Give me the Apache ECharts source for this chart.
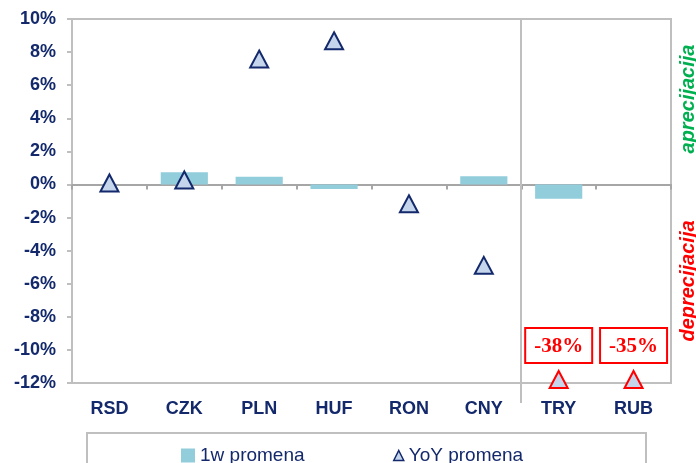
<!DOCTYPE html>
<html>
<head>
<meta charset="utf-8">
<script src="https://cdn.jsdelivr.net/npm/echarts@6/dist/echarts.min.js"></script>
<style>
  html, body { margin: 0; padding: 0; background: #fff; }
  #chart { width: 696px; height: 463px; }
</style>
</head>
<body>
<div id="chart"></div>
<script>
// Currency changes against the euro: one-week change (bars) and year-on-year change (triangles)
const categories = ['RSD', 'CZK', 'PLN', 'HUF', 'RON', 'CNY', 'TRY', 'RUB'];
const weeklyChange = [0, 0.74, 0.47, -0.27, 0, 0.5, -0.86, 0];
const yoyChange = [0.06, 0.24, 7.55, 8.65, -1.2, -4.92, -38, -35];
const yMin = -12;
const yMax = 10;
const yStep = 2;
const seriesNames = ['1w promena', 'YoY promena'];
const separatorBefore = 'TRY';

const NAVY = '#13296b';
const GRAY = '#bfbfbf';
const SANS = '"Liberation Sans", Arial, sans-serif';
const SERIF = '"Liberation Serif", "Times New Roman", serif';

const chart = echarts.init(document.getElementById('chart'), null, { renderer: 'canvas' });

// Triangle marker; values beyond the axis floor are pinned to it, drawn in red with a value box
function renderYoy(params, api) {
  const idx = api.value(0);
  const val = api.value(1);
  const clamped = val < yMin;
  const pt = api.coord([idx, clamped ? yMin : val]);
  const cx = pt[0];
  const cy = clamped ? pt[1] - 3 : pt[1];
  const children = [{
    type: 'polygon',
    shape: { points: [[cx, cy - 9], [cx + 9, cy + 8], [cx - 9, cy + 8]] },
    style: { fill: '#c5d5ec', stroke: clamped ? '#ff0000' : NAVY, lineWidth: 2 }
  }];
  if (clamped) {
    const bw = 67, bh = 35;
    const by = cy - 9 - 8 - bh;
    children.push({
      type: 'rect',
      shape: { x: cx - bw / 2, y: by, width: bw, height: bh },
      style: { fill: '#fff', stroke: '#ff0000', lineWidth: 2 }
    });
    children.push({
      type: 'text',
      style: {
        x: cx, y: by + bh / 2 + 1,
        text: Math.round(val) + '%',
        fill: '#ff0000',
        font: 'bold 21px ' + SERIF,
        align: 'center', verticalAlign: 'middle'
      }
    });
  }
  return { type: 'group', children: children };
}

const option = {
  animation: false,
  grid: {
    left: 72, right: 25, top: 19, bottom: 80,
    show: true, borderColor: GRAY, borderWidth: 2, backgroundColor: 'transparent'
  },
  legend: [
    {
      data: [{ name: seriesNames[0], icon: 'rect' }],
      left: 176, top: 441,
      itemWidth: 14, itemHeight: 14, itemGap: 5,
      textStyle: { color: NAVY, fontSize: 19, fontFamily: SANS }
    },
    {
      data: [{
        name: seriesNames[1], icon: 'triangle',
        itemStyle: { color: '#c5d5ec', borderColor: NAVY, borderWidth: 1.5 }
      }],
      left: 388, top: 441,
      itemWidth: 10, itemHeight: 10, itemGap: 5,
      textStyle: { color: NAVY, fontSize: 19, fontFamily: SANS }
    }
  ],
  xAxis: [
    {
      // zero line with category boundary ticks
      type: 'category', data: categories, boundaryGap: true,
      axisLine: { onZero: true, lineStyle: { color: '#a6a6a6', width: 2 } },
      axisTick: { show: true, length: 5, lineStyle: { color: '#a6a6a6', width: 2 } },
      axisLabel: { show: false },
      splitLine: { show: false }
    },
    {
      // bottom category labels
      type: 'category', data: categories, boundaryGap: true, position: 'bottom',
      axisLine: { show: false, onZero: false },
      axisTick: { show: false },
      splitLine: { show: false },
      axisLabel: {
        color: NAVY, fontSize: 18, fontWeight: 'bold', fontFamily: SANS, margin: 17
      }
    }
  ],
  yAxis: {
    type: 'value', min: yMin, max: yMax, interval: yStep,
    axisLine: { show: true, lineStyle: { color: GRAY, width: 2 } },
    axisTick: { show: true, length: 5, lineStyle: { color: GRAY, width: 2 } },
    splitLine: { show: false },
    axisLabel: {
      formatter: '{value}%', color: NAVY, fontSize: 18, fontWeight: 'bold',
      fontFamily: SANS, margin: 16
    }
  },
  series: [
    {
      name: seriesNames[0], type: 'bar', data: weeklyChange,
      xAxisIndex: 0, barWidth: '63%',
      itemStyle: { color: '#92cddc' }
    },
    {
      name: seriesNames[1], type: 'custom', xAxisIndex: 0,
      data: yoyChange.map(function (v, i) { return [i, v]; }),
      encode: { x: 0, y: 1 },
      renderItem: renderYoy,
      itemStyle: { color: NAVY },
      z: 5
    }
  ],
  graphic: [
    {
      type: 'rect', shape: { x: 87, y: 433, width: 559, height: 60 },
      style: { fill: 'none', stroke: GRAY, lineWidth: 2 }, silent: true, z: -1
    },
    {
      type: 'text', x: 688, y: 99, rotation: Math.PI / 2,
      style: {
        text: 'aprecijacija', fill: '#00b050', font: 'italic bold 20px ' + SANS,
        align: 'center', verticalAlign: 'middle'
      }
    },
    {
      type: 'text', x: 688, y: 281, rotation: Math.PI / 2,
      style: {
        text: 'deprecijacija', fill: '#ff0000', font: 'italic bold 20px ' + SANS,
        align: 'center', verticalAlign: 'middle'
      }
    }
  ]
};

chart.setOption(option);

// Vertical separator on the category boundary, from the top of the plot to just below it
const sepIdx = categories.indexOf(separatorBefore);
const xLeft = chart.convertToPixel({ xAxisIndex: 0 }, categories[sepIdx - 1]);
const xRight = chart.convertToPixel({ xAxisIndex: 0 }, categories[sepIdx]);
const yTop = chart.convertToPixel({ yAxisIndex: 0 }, yMax);
const yBottom = chart.convertToPixel({ yAxisIndex: 0 }, yMin);
const sepX = Math.round((xLeft + xRight) / 2);
chart.setOption({
  graphic: [{
    id: 'separator', type: 'line', silent: true, z: 1,
    shape: { x1: sepX, y1: yTop, x2: sepX, y2: yBottom + 20 },
    style: { stroke: GRAY, lineWidth: 2 }
  }]
});
</script>
</body>
</html>
